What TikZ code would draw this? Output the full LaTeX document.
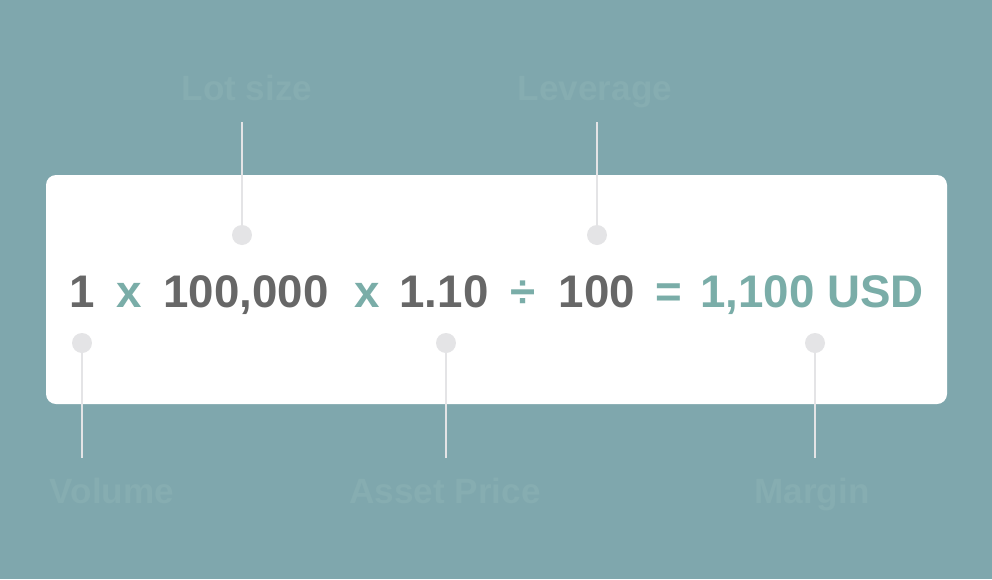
\documentclass[tikz,border=0pt]{standalone}
\usepackage{fontspec}
\setmainfont{Liberation Sans}
\usepackage{xcolor}
\usepackage{tikz}
\usetikzlibrary{arrows.meta,positioning,calc}

\definecolor{bgteal}{HTML}{7FA7AD}
\definecolor{numgray}{HTML}{676767}
\definecolor{optteal}{HTML}{7AADA8}
\definecolor{lblteal}{HTML}{86ADB1}
\definecolor{pinGray}{HTML}{E4E4E6}

\begin{document}
\begin{tikzpicture}[
    x=0.02cm, y=-0.02cm,
    num/.style={font=\fontsize{26}{30}\selectfont\bfseries, text=numgray, inner sep=0pt, anchor=base},
    op/.style={font=\fontsize{26}{30}\selectfont\bfseries, text=optteal, inner sep=0pt, anchor=base},
    lbl/.style={font=\fontsize{20}{24}\selectfont\bfseries, text=lblteal, inner sep=0pt, anchor=base},
    pin/.style={circle, fill=pinGray, minimum size=0.4cm, inner sep=0pt},
    wire/.style={draw=pinGray, line width=1.6pt}
]
\useasboundingbox[fill=bgteal] (0,0) rectangle (992,579);
\fill[white, rounded corners=0.2cm] (46,175) rectangle (947,404);

% the formula
\node[num] (volume) at (82,307) {1};
\node[op] (x1) at (129,307) {x};
\node[num] (lot) at (246,307) {100,000};
\node[op] (x2) at (367,307) {x};
\node[num] (price) at (444,307) {1.10};
\node[op] (div) at (523,307) {÷};
\node[num] (lev) at (597,307) {100};
\node[op] (eq) at (669,307) {=};
\node[op] (margin) at (812,307) {1,100 USD};

% pins
\node[pin] (pinLot) at (242,235) {};
\node[pin] (pinLev) at (597,235) {};
\node[pin] (pinVol) at (82,343) {};
\node[pin] (pinPrice) at (446,343) {};
\node[pin] (pinMargin) at (815,343) {};

% labels
\node[lbl] (lblLot) at (247,100) {Lot size};
\node[lbl] (lblLev) at (595,100) {Leverage};
\node[lbl] (lblVol) at (112,503) {Volume};
\node[lbl] (lblPrice) at (445,503) {Asset Price};
\node[lbl] (lblMargin) at (812,503) {Margin};

\coordinate (endLot) at (242,122);
\coordinate (endLev) at (597,122);
\coordinate (endVol) at (82,458);
\coordinate (endPrice) at (446,458);
\coordinate (endMargin) at (815,458);

\draw[wire] (endLot) -- (pinLot);
\draw[wire] (endLev) -- (pinLev);
\draw[wire] (pinVol) -- (endVol);
\draw[wire] (pinPrice) -- (endPrice);
\draw[wire] (pinMargin) -- (endMargin);
\end{tikzpicture}
\end{document}
